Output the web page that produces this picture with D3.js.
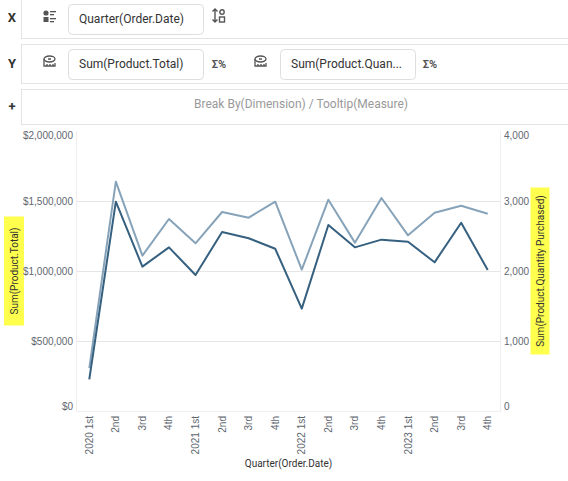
<!DOCTYPE html>
<html lang="en">
  <head>
    <meta charset="UTF-8" />
    <title>Quarter(Order.Date)</title>
    <script src="https://d3js.org/d3.v7.min.js"></script>
    <style>
      body {
        margin: 0;
        background: #fff;
        font-family: Roboto, "Noto Sans", Arial, sans-serif;
      }
      .pill text {
        font-size: 12px;
        fill: #333;
      }
      .tick text {
        font-size: 10px;
        fill: #5f6770;
      }
      .grid line {
        stroke: #e6e6e6;
      }
    </style>
  </head>
  <body>
    <svg width="568" height="481"></svg>

    <script>
      // quarters on the x axis
      const quarters = [
        "2020 1st", "2nd", "3rd", "4th",
        "2021 1st", "2nd", "3rd", "4th",
        "2022 1st", "2nd", "3rd", "4th",
        "2023 1st", "2nd", "3rd", "4th",
      ];
      // Sum(Product.Total)
      const totals = [
        226000, 1495000, 1031000, 1169000,
        971000, 1279000, 1234000, 1159000,
        731000, 1329000, 1169000, 1224000,
        1209000, 1062000, 1345000, 1007000,
      ];
      // Sum(Product.Quantity Purchased)
      const quantities = [
        614, 3276, 2219, 2743,
        2396, 2843, 2762, 2990,
        2019, 3019, 2405, 3043,
        2510, 2833, 2933, 2819,
      ];
      const leftTicks = [0, 500000, 1000000, 1500000, 2000000];
      const rightTicks = [0, 1000, 2000, 3000, 4000];

      const svg = d3.select("svg");
      const keys = quarters.map((q, i) => i);

      // ---- shelf panels at the top ----
      const shelf = svg.append("g");
      const panels = [
        { label: "X", y0: -2, y1: 38 },
        { label: "Y", y0: 44, y1: 83 },
        { label: "+", y0: 89, y1: 124 },
      ];
      panels.forEach((p) => {
        shelf.append("rect")
          .attr("x", 21.5).attr("y", p.y0 + 0.5)
          .attr("width", 560).attr("height", p.y1 - p.y0)
          .attr("fill", "#fff").attr("stroke", "#e3e3e3");
        shelf.append("text")
          .attr("x", 12).attr("y", (p.y0 + p.y1) / 2 + 1)
          .attr("text-anchor", "middle").attr("dominant-baseline", "middle")
          .attr("font-size", 13).attr("font-weight", "bold").attr("fill", "#333")
          .text(p.label);
      });

      const pills = [
        { x: 68, y: 4, text: "Quarter(Order.Date)" },
        { x: 68, y: 49, text: "Sum(Product.Total)" },
        { x: 280, y: 49, text: "Sum(Product.Quan..." },
      ];
      const pill = shelf.selectAll("g.pill").data(pills).join("g")
        .attr("class", "pill")
        .attr("transform", (d) => `translate(${d.x},${d.y})`);
      pill.append("rect")
        .attr("x", 0.5).attr("y", 0.5).attr("width", 135).attr("height", 30)
        .attr("rx", 4).attr("fill", "#fff").attr("stroke", "#dedede");
      pill.append("text")
        .attr("x", 11).attr("y", 16).attr("dominant-baseline", "middle")
        .text((d) => d.text);

      // dimension icon
      const dim = shelf.append("g").attr("fill", "#555").attr("transform", "translate(43,10)");
      dim.append("circle").attr("cx", 3).attr("cy", 3).attr("r", 2.6);
      dim.append("rect").attr("x", 0.5).attr("y", 7).attr("width", 5).attr("height", 5);
      [1, 4, 8, 11].forEach((y, i) =>
        dim.append("rect").attr("x", 7).attr("y", y).attr("width", i % 2 ? 4 : 6).attr("height", 1.3)
      );

      // sort icon
      const sort = shelf.append("g").attr("transform", "translate(212,9)")
        .attr("stroke", "#555").attr("fill", "none").attr("stroke-width", 1.4);
      sort.append("path").attr("d", "M3,0V13M0.5,2.5L3,0L5.5,2.5M0.5,10.5L3,13L5.5,10.5");
      sort.append("circle").attr("cx", 10).attr("cy", 3).attr("r", 2.2);
      sort.append("rect").attr("x", 7.5).attr("y", 8).attr("width", 5).attr("height", 5);

      // measure icons
      [43, 254].forEach((x) => {
        const m = shelf.append("g").attr("transform", `translate(${x},55)`)
          .attr("stroke", "#555").attr("fill", "none").attr("stroke-width", 1.3);
        m.append("ellipse").attr("cx", 6.5).attr("cy", 4).attr("rx", 5.5).attr("ry", 3);
        m.append("path").attr("d", "M1,4V11H12V8M4,11V9M7,11V9M10,11V9M5,4H8");
      });

      // sigma percent icons
      [219, 430].forEach((x) => {
        shelf.append("text")
          .attr("x", x).attr("y", 65).attr("text-anchor", "middle")
          .attr("dominant-baseline", "middle")
          .attr("font-size", 11).attr("font-weight", "bold").attr("fill", "#555")
          .text("Σ%");
      });

      shelf.append("text")
        .attr("x", 301).attr("y", 105)
        .attr("text-anchor", "middle").attr("dominant-baseline", "middle")
        .attr("font-size", 12).attr("fill", "#999")
        .text("Break By(Dimension) / Tooltip(Measure)");

      // ---- chart ----
      const plotL = 76, plotR = 501, plotT = 131, plotB = 411;

      const x = d3.scaleBand().domain(keys).range([plotL, plotR]);
      const yL = d3.scaleLinear().domain([0, 2000000]).range([plotB, plotT]);
      const yR = d3.scaleLinear().domain([0, 4000]).range([plotB, plotT]);

      // grid
      svg.append("g").attr("class", "grid")
        .selectAll("line").data(leftTicks.slice(1, -1)).join("line")
        .attr("x1", plotL).attr("x2", plotR)
        .attr("y1", (d) => Math.round(yL(d)) + 0.5)
        .attr("y2", (d) => Math.round(yL(d)) + 0.5);

      // plot frame (left, bottom, right)
      svg.append("path")
        .attr("d", `M${plotL + 0.5},${plotT}V${plotB + 0.5}H${plotR - 0.5}V${plotT}`)
        .attr("fill", "none").attr("stroke", "#eeeeee");

      // y titles on yellow (behind the tick labels)
      const titles = [
        { cx: 14, w: 20, h: 109, text: "Sum(Product.Total)" },
        { cx: 540, w: 19, h: 167, text: "Sum(Product.Quantity Purchased)" },
      ];
      const tg = svg.selectAll("g.ytitle").data(titles).join("g")
        .attr("class", "ytitle")
        .attr("transform", (d) => `translate(${d.cx},271) rotate(-90)`);
      tg.append("rect")
        .attr("x", (d) => -d.h / 2).attr("y", (d) => -d.w / 2)
        .attr("width", (d) => d.h).attr("height", (d) => d.w)
        .attr("fill", "#ffff4d");
      tg.append("text")
        .attr("text-anchor", "middle").attr("dy", "0.35em")
        .attr("font-size", 10).attr("fill", "#333")
        .text((d) => d.text);

      const fmt = (v) => "$" + d3.format(",")(v);
      const nudge = (d, i, n) => (i === 0 ? -5 : i === n - 1 ? 4 : 0);

      const axL = svg.append("g")
        .attr("transform", `translate(${plotL},0)`)
        .call(d3.axisLeft(yL).tickValues(leftTicks).tickFormat(fmt).tickSize(0).tickPadding(3));
      axL.select(".domain").remove();
      axL.selectAll(".tick text").attr("dy", (d, i) => 3.5 + nudge(d, i, leftTicks.length));

      const axR = svg.append("g")
        .attr("transform", `translate(${plotR},0)`)
        .call(d3.axisRight(yR).tickValues(rightTicks).tickFormat(d3.format(",")).tickSize(0).tickPadding(3));
      axR.select(".domain").remove();
      axR.selectAll(".tick text").attr("dy", (d, i) => 3.5 + nudge(d, i, rightTicks.length));

      const axB = svg.append("g")
        .attr("transform", `translate(0,${plotB})`)
        .call(d3.axisBottom(x).tickFormat((i) => quarters[i]).tickSize(0));
      axB.select(".domain").remove();
      axB.selectAll(".tick text")
        .attr("text-anchor", "end")
        .attr("transform", "rotate(-90)")
        .attr("x", -5).attr("y", 0).attr("dy", "0.35em");

      svg.append("text")
        .attr("x", (plotL + plotR) / 2).attr("y", 467)
        .attr("text-anchor", "middle")
        .attr("font-size", 10).attr("fill", "#333")
        .text("Quarter(Order.Date)");

      // lines
      const cx = (i) => x(i) + x.bandwidth() / 2;
      const lineQty = d3.line().x((d, i) => cx(i)).y((d) => yR(d));
      const lineTot = d3.line().x((d, i) => cx(i)).y((d) => yL(d));

      svg.append("path").datum(quantities)
        .attr("d", lineQty).attr("fill", "none")
        .attr("stroke", "#87a3b9").attr("stroke-width", 2).attr("stroke-linejoin", "round");
      svg.append("path").datum(totals)
        .attr("d", lineTot).attr("fill", "none")
        .attr("stroke", "#36607f").attr("stroke-width", 2).attr("stroke-linejoin", "round");
    </script>
  </body>
</html>
